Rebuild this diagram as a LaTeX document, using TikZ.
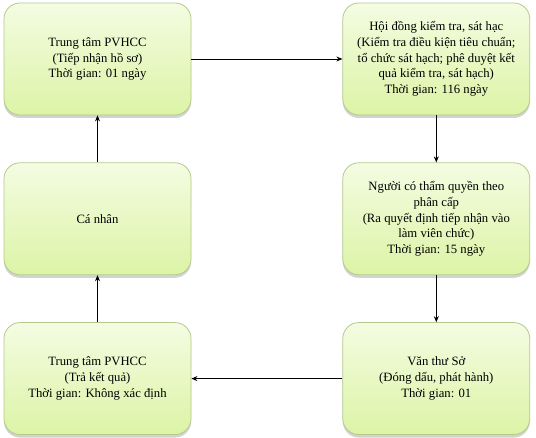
\documentclass[tikz,border=0pt]{standalone}
\usepackage{fontspec}
\setmainfont{Liberation Serif}
\usepackage{xcolor}
\usetikzlibrary{arrows.meta,positioning,shadows}
\definecolor{boxtop}{HTML}{F4FCE2}
\definecolor{boxbot}{HTML}{DCF4A6}
\definecolor{boxline}{HTML}{B5C98C}
\tikzset{
  >={Stealth[length=6pt,width=5pt]},
  every node/.style={font=\fontsize{12.7}{15.7}\selectfont,text=black},
  stepbox/.style={draw=boxline,line width=0.8pt,rounded corners=16pt,top color=boxtop,bottom color=boxbot,
    minimum width=187pt,minimum height=112pt,align=center,inner sep=4pt,
    drop shadow={opacity=0.35,shadow xshift=0pt,shadow yshift=-3pt}},
  arrow/.style={->,line width=0.8pt,draw=black}
}
\begin{document}
\begin{tikzpicture}[x=1pt,y=-1pt,node distance=47pt and 151pt]
  \useasboundingbox (0,0) rectangle (536,438);
  \node[stepbox] (tiepnhan) at (97.5,59) {Trung tâm PVHCC\\(Tiếp nhận hồ sơ)\\Thời gian: 01 ngày};
  \node[stepbox,right=of tiepnhan] (hoidong) {Hội đồng kiểm tra, sát hạc\\(Kiểm tra điều kiện tiêu chuẩn;\\tổ chức sát hạch; phê duyệt kết\\quả kiểm tra, sát hạch)\\Thời gian: 116 ngày};
  \node[stepbox,below=of hoidong] (thamquyen) {Người có thẩm quyền theo\\phân cấp\\(Ra quyết định tiếp nhận vào\\làm viên chức)\\Thời gian: 15 ngày};
  \node[stepbox,below=of thamquyen] (vanthu) {Văn thư Sở\\(Đóng dấu, phát hành)\\Thời gian: 01};
  \node[stepbox,below=of tiepnhan] (canhan) {Cá nhân};
  \node[stepbox,below=of canhan] (trakq) {Trung tâm PVHCC\\(Trả kết quả)\\Thời gian: Không xác định};

  \draw[arrow] (tiepnhan) -- (hoidong);
  \draw[arrow] (hoidong) -- (thamquyen);
  \draw[arrow] (thamquyen) -- (vanthu);
  \draw[arrow] (vanthu) -- (trakq);
  \draw[arrow] (trakq) -- (canhan);
  \draw[arrow] (canhan) -- (tiepnhan);
\end{tikzpicture}
\end{document}
